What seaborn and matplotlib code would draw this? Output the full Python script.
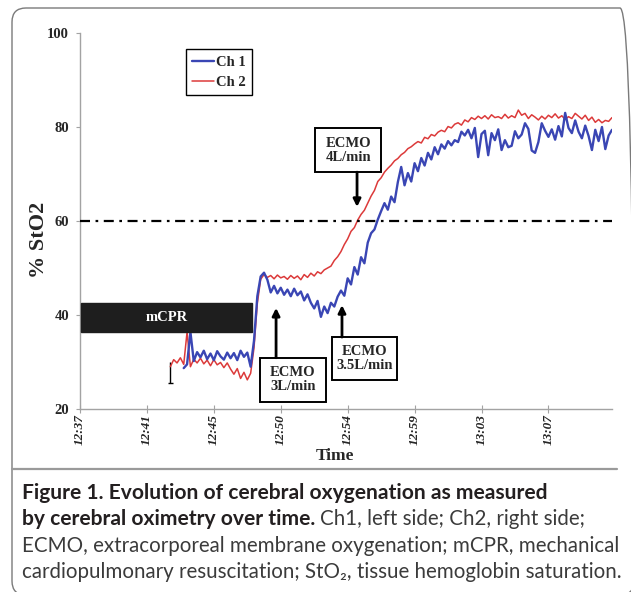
import numpy as np
import pandas as pd
import matplotlib
matplotlib.use("Agg")
import matplotlib.pyplot as plt
import seaborn as sns
from matplotlib.patches import Rectangle, FancyBboxPatch
from matplotlib.lines import Line2D
from matplotlib.transforms import IdentityTransform

# ---------------- data ----------------
tick_samples = [0, 20, 40, 60, 80, 100, 120, 140]
tick_labels = ["12:37", "12:41", "12:45", "12:50", "12:54", "12:59", "13:03", "13:07"]

ch1_start = 31
ch1_values = [
    28.7, 29.5, 36.4, 30.2, 32.1, 31.0, 32.4, 30.6, 31.8, 30.4,
    32.3, 31.2, 30.5, 32.0, 30.8, 31.9, 30.4, 32.4, 31.1, 32.0,
    29.0, 34.5, 44.0, 48.2, 49.0, 47.5, 44.8, 46.2, 44.6, 45.8,
    44.3, 45.4, 44.0, 45.6, 44.2, 45.0, 43.1, 44.4, 42.6, 41.4,
    43.0, 39.6, 41.8, 40.4, 42.6, 41.8, 43.9, 45.2, 44.1, 47.8,
    46.5, 50.2, 48.6, 52.3, 51.0, 55.4, 57.4, 58.2, 60.3, 62.1,
    63.8, 62.4, 65.2, 64.0, 68.3, 71.5, 67.6, 70.2, 68.4, 72.3,
    70.6, 73.4, 71.8, 74.5, 73.1, 75.7, 74.2, 76.3, 75.4, 77.0,
    76.1, 77.2, 76.8, 79.0, 78.2, 79.4, 77.6, 79.8, 73.6, 78.5,
    79.2, 74.0, 78.7, 77.2, 79.5, 75.1, 77.2, 75.7, 76.0, 79.1,
    77.6, 78.4, 80.8, 79.6, 75.0, 74.5, 76.8, 80.8, 79.2, 77.9,
    79.5, 77.3, 80.2, 78.0, 83.0, 79.8, 78.7, 81.4, 79.0, 77.6,
    80.3, 78.1, 75.1, 79.4, 77.0, 80.0, 75.3, 78.2, 79.4,
]

ch2_start = 27
ch2_values = [
    29.0, 30.5, 29.8, 30.9, 29.5, 36.4, 29.0, 30.6, 29.8, 30.8,
    29.6, 30.4, 29.2, 30.5, 29.4, 29.9, 28.8, 29.8, 28.5, 27.4,
    28.6, 26.5, 27.8, 26.2, 27.6, 33.0, 42.5, 47.6, 48.6, 48.0,
    48.4, 47.7, 48.5, 47.9, 48.2, 47.6, 48.4, 47.8, 48.3, 47.5,
    48.6, 48.0, 48.9, 48.3, 49.2, 48.8, 49.6, 50.0, 50.4, 51.6,
    52.4, 53.5, 55.0, 56.2, 57.8, 58.6, 60.2, 61.4, 62.3, 63.8,
    65.3, 66.5, 68.4, 69.2, 70.4, 71.2, 71.9, 72.8, 73.3, 74.1,
    74.6, 75.4, 75.8, 76.4, 76.9, 76.6, 77.8, 77.5, 78.4, 78.1,
    78.9, 79.3, 79.0, 80.1, 79.8, 80.6, 80.9, 80.4, 81.5, 81.1,
    82.0, 81.6, 82.3, 81.8, 82.4, 81.7, 82.6, 82.0, 82.2, 81.8,
    82.7, 81.9, 82.4, 82.0, 83.6, 82.5, 82.9, 81.8, 82.6, 82.1,
    81.5, 82.3, 81.7, 82.5, 82.0, 82.8, 81.9, 82.4, 81.6, 82.2,
    81.8, 82.9, 82.3, 81.7, 82.5, 81.4, 82.1, 81.0, 81.6, 80.9,
    81.4, 81.2, 82.0,
]

threshold = 60
marker_sample = 27
marker_low, marker_top = 25.5, 30.0

# ---------------- style ----------------
sns.set_theme(style="white")
plt.rcParams["font.family"] = ["Liberation Serif", "DejaVu Serif"]

BLUE = "#3a46b4"
RED = "#dc3a3a"
GRAY = "#a3a3a3"

W, H = 631, 592
fig = plt.figure(figsize=(W / 100, H / 100), dpi=100)
ax = fig.add_axes([80 / W, 1 - 409 / H, (612 - 80) / W, (409 - 33) / H])

df = pd.concat([
    pd.DataFrame({"sample": np.arange(ch2_start, ch2_start + len(ch2_values)),
                  "StO2": ch2_values, "channel": "Ch 2"}),
    pd.DataFrame({"sample": np.arange(ch1_start, ch1_start + len(ch1_values)),
                  "StO2": ch1_values, "channel": "Ch 1"}),
])
sns.lineplot(data=df, x="sample", y="StO2", hue="channel", hue_order=["Ch 2", "Ch 1"],
             palette={"Ch 1": BLUE, "Ch 2": RED}, estimator=None, legend=False, ax=ax)
ax.lines[0].set_linewidth(1.1)
ax.lines[1].set_linewidth(1.7)

# black marker at start (vertical bar with a foot)
ax.vlines(marker_sample, marker_low, marker_top, color="black", lw=1.0, zorder=1)
ax.hlines(marker_low, marker_sample - 0.8, marker_sample + 0.8, color="black", lw=1.0, zorder=1)

# threshold line
ax.axhline(threshold, color="black", lw=1.6, dashes=(4.5, 2.5, 1.2, 2.5), zorder=3)

ax.set_xlim(0, 159)
ax.set_ylim(20, 100)
ax.set_yticks([20, 40, 60, 80, 100])
ax.set_yticklabels(["20", "40", "60", "80", "100"], fontsize=10.5, fontweight="bold")
ax.set_xticks(tick_samples)
ax.set_xticklabels(tick_labels, rotation=90, fontsize=9.5, fontweight="bold",
                   fontstyle="italic", va="top", ha="center")
for s in ["top", "right"]:
    ax.spines[s].set_visible(False)
for s in ["left", "bottom"]:
    ax.spines[s].set_color(GRAY)
    ax.spines[s].set_linewidth(1.0)
ax.tick_params(axis="y", direction="out", length=3, width=0.8, color=GRAY, pad=5, left=True)
ax.tick_params(axis="x", direction="inout", length=6, width=0.8, color=GRAY, pad=1, bottom=True)

ax.set_ylabel("% StO2", fontsize=16, fontweight="bold")
ax.yaxis.set_label_coords(-0.058, 0.45)
ax.set_xlabel("Time", fontsize=12.5, fontweight="bold")
ax.xaxis.set_label_coords(0.479, -0.104)

# legend
handles = [Line2D([], [], color=BLUE, lw=1.7), Line2D([], [], color=RED, lw=1.1)]
leg = ax.legend(handles, ["Ch 1", "Ch 2"], loc="upper left", bbox_to_anchor=(0.199, 0.957),
                borderaxespad=0, fancybox=False, edgecolor="black", framealpha=1,
                prop={"weight": "bold", "size": 10.5}, handlelength=1.5, handletextpad=0.1,
                labelspacing=0.45, borderpad=0.45)
leg.get_frame().set_linewidth(1.0)

# mCPR box
ax.add_patch(Rectangle((0.3, 36.4), 51.1, 6.2, facecolor="#1e1e1e", edgecolor="#1e1e1e",
                       lw=1, zorder=4))
ax.text(25.8, 39.5, "mCPR", color="white", fontsize=10.5, fontweight="bold",
        ha="center", va="center", zorder=5)

def ecmo_box(x0, x1, y0, y1, label):
    ax.add_patch(Rectangle((x0, y0), x1 - x0, y1 - y0, facecolor="white",
                           edgecolor="black", lw=1.4, zorder=6, clip_on=False))
    ax.text((x0 + x1) / 2, (y0 + y1) / 2, label, fontsize=10.5, fontweight="bold",
            ha="center", va="center", linespacing=1.1, zorder=7)

def arrow(x, ytail, ytip):
    ax.annotate("", xy=(x, ytip), xytext=(x, ytail),
                arrowprops=dict(arrowstyle="-|>", color="black", lw=2.0,
                                mutation_scale=11, shrinkA=0, shrinkB=0), zorder=7)

ecmo_box(53.8, 73.5, 21.5, 30.9, "ECMO\n3L/min")
arrow(58.6, 30.9, 41.5)
ecmo_box(75.3, 94.8, 26.2, 35.3, "ECMO\n3.5L/min")
arrow(78.3, 35.3, 42.1)
ecmo_box(70.3, 90.0, 70.4, 79.8, "ECMO\n4L/min")
arrow(82.8, 70.4, 63.0)

# frame and separator
fig.add_artist(FancyBboxPatch((12, -3), 622, 587, boxstyle="round,pad=0,rounding_size=14",
                              transform=IdentityTransform(), facecolor="none",
                              edgecolor="#7a7a7a", lw=1.0))
fig.add_artist(Line2D([12 / W, 617 / W], [1 - 469 / H, 1 - 469 / H], transform=fig.transFigure,
                      color="#9a9a9a", lw=1.6))

# caption
renderer = fig.canvas.get_renderer()
cap_font = ["Lato", "DejaVu Sans"]
bold_col = "#231f20"
reg_col = "#3b3b3b"

def fitted(text, x, ybase, target_w, weight, color):
    t = fig.text(x / W, 1 - ybase / H, text, fontsize=12, fontweight=weight,
                 family=cap_font, color=color, va="baseline", ha="left")
    w = t.get_window_extent(renderer).width
    t.set_fontsize(12 * target_w / w)
    return t

t1 = fitted("Figure 1. Evolution of cerebral oxygenation as measured", 22, 499, 523, "bold", bold_col)
fs_b = t1.get_fontsize()
t4 = fitted("cardiopulmonary resuscitation; StO\u2082, tissue hemoglobin saturation.", 22, 578, 598,
            "normal", reg_col)
fs_r = t4.get_fontsize()
t2 = fig.text(22 / W, 1 - 525 / H, "by cerebral oximetry over time.", fontsize=fs_b,
              fontweight="bold", family=cap_font, color=bold_col, va="baseline")
x_end = t2.get_window_extent(renderer).x1
fig.text((x_end + 5) / W, 1 - 525 / H, "Ch1, left side; Ch2, right side;", fontsize=fs_r,
         family=cap_font, color=reg_col, va="baseline")
fig.text(22 / W, 1 - 552 / H, "ECMO, extracorporeal membrane oxygenation; mCPR, mechanical",
         fontsize=fs_r, family=cap_font, color=reg_col, va="baseline")

fig.savefig("out.png", dpi=100)
